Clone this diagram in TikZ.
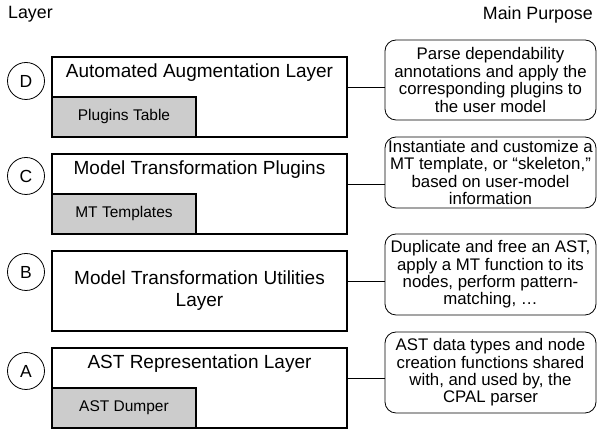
\documentclass[tikz,border=0pt]{standalone}
\usepackage{fontspec}
\setmainfont{Liberation Sans}
\usetikzlibrary{positioning}

\begin{document}
\begin{tikzpicture}[x=1pt,y=1pt]

\tikzstyle{layer}=[draw,line width=1.5pt,minimum width=295pt,minimum height=80pt,inner sep=0pt]
\tikzstyle{module}=[draw,line width=1.5pt,fill=black!20,minimum width=144pt,minimum height=40pt,inner sep=0pt,anchor=south west,font=\fontsize{15.5}{17}\selectfont]
\tikzstyle{tag}=[draw,circle,line width=0.8pt,minimum size=37pt,inner sep=0pt,font=\fontsize{17.5}{19}\selectfont]
\tikzstyle{purpose}=[draw,line width=0.8pt,rounded corners=11pt,minimum width=211pt,inner sep=0pt,align=center,font=\fontsize{16.8}{17.4}\selectfont]
\tikzstyle{title}=[align=center,font=\fontsize{19}{22}\selectfont]
\tikzstyle{header}=[inner sep=0pt,font=\fontsize{17.8}{20}\selectfont]
\tikzstyle{link}=[line width=0.8pt]

\useasboundingbox (0,0) rectangle (598,430);

% column headers
\node[header, anchor=west] (hLayer) at (8,415.5) {Layer};
\node[header, anchor=east] (hPurpose) at (593,415.5) {Main Purpose};

% layers
\node[layer] (layerD) at (199.5,333) {};
\node[layer] (layerC) at (199.5,236) {};
\node[layer] (layerB) at (199.5,139) {};
\node[layer] (layerA) at (199.5,42) {};

\node[title] (titleD) at ([yshift=-16pt]layerD.north) {Automated Augmentation Layer};
\node[title] (titleC) at ([yshift=-16pt]layerC.north) {Model Transformation Plugins};
\node[title] (titleB) at (layerB.center) {Model Transformation Utilities\\Layer};
\node[title] (titleA) at ([yshift=-16pt]layerA.north) {AST Representation Layer};

\node[module] (tableD) at (layerD.south west) {Plugins Table};
\node[module] (tableC) at (layerC.south west) {MT Templates};
\node[module] (tableA) at (layerA.south west) {AST Dumper};

% layer tags
\node[tag] (tagD) at (26,349) {D};
\node[tag] (tagC) at (26,254) {C};
\node[tag] (tagB) at (26,158) {B};
\node[tag] (tagA) at (26,59) {A};

% purposes
\node[purpose, minimum height=80pt] (purposeD) at (490.5,350) {Parse dependability\\annotations and apply the\\corresponding plugins to\\the user model};
\node[purpose, minimum height=71pt] (purposeC) at (490.5,257.5) {Instantiate and customize a\\MT template, or “skeleton,”\\based on user-model\\information};
\node[purpose, minimum height=81pt] (purposeB) at (490.5,155.5) {Duplicate and free an AST,\\apply a MT function to its\\nodes, perform pattern-\\matching, …};
\node[purpose, minimum height=81pt] (purposeA) at (490.5,57.5) {AST data types and node\\creation functions shared\\with, and used by, the\\CPAL parser};

% links
\coordinate[yshift=-31pt] (jD) at (layerD.north east);
\coordinate[yshift=-31pt] (jC) at (layerC.north east);
\coordinate[yshift=-31pt] (jB) at (layerB.north east);
\coordinate[yshift=-31pt] (jA) at (layerA.north east);

\draw[link] (jD) -- (jD -| purposeD.west);
\draw[link] (jC) -- (jC -| purposeC.west);
\draw[link] (jB) -- (jB -| purposeB.west);
\draw[link] (jA) -- (jA -| purposeA.west);

\end{tikzpicture}
\end{document}
